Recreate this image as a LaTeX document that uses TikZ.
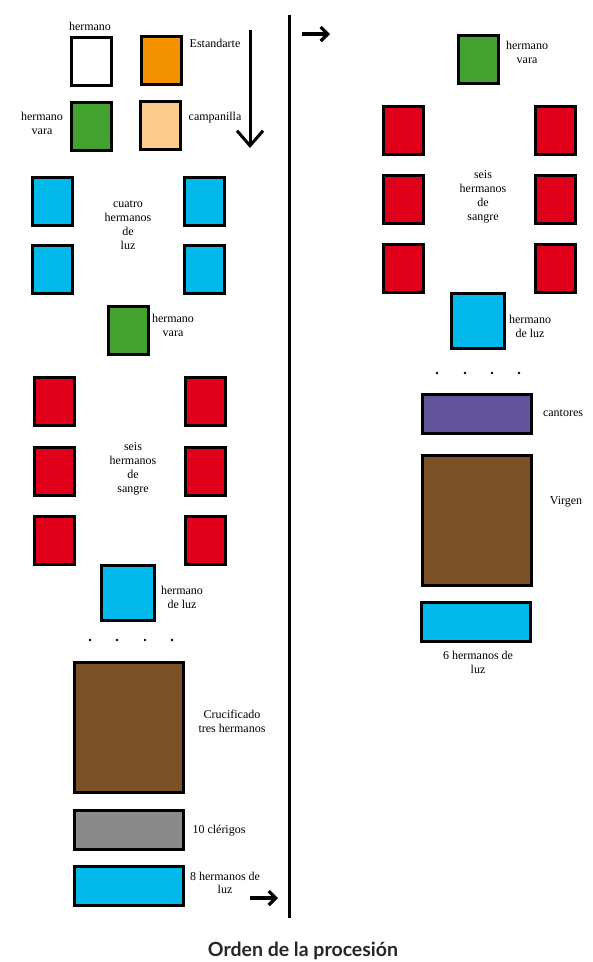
\documentclass[tikz,border=0pt]{standalone}
\usepackage{fontspec}
\setmainfont{Liberation Serif}
\newfontfamily\capfont{Lato}
\usetikzlibrary{arrows.meta}
\definecolor{psOrange}{HTML}{F39200}
\definecolor{psGreen}{HTML}{43A22E}
\definecolor{psPeach}{HTML}{FCCB8C}
\definecolor{psLuz}{HTML}{00B8E9}
\definecolor{psRed}{HTML}{E1001C}
\definecolor{psBrown}{HTML}{7A5127}
\definecolor{psGrey}{HTML}{8A8A8A}
\definecolor{psPurple}{HTML}{62549B}

\begin{document}
\begin{tikzpicture}[
      x=1pt,y=-1pt,
      font=\fontsize{12}{14}\selectfont,
      fig/.style={draw=black,line width=3pt,inner sep=0pt,
                  minimum width=40pt,minimum height=48pt},
      big/.style={fig,minimum width=53pt,minimum height=55pt},
      wide/.style={fig,minimum width=109pt,minimum height=39pt},
      tall/.style={fig,minimum width=109pt,minimum height=130pt},
      luz/.style={fill=psLuz},
      san/.style={fig,fill=psRed},
      vara/.style={fig,fill=psGreen},
      lbl/.style={align=center,inner sep=0pt},
      pt/.style={circle,fill=black,inner sep=0pt,minimum size=2.6pt},
      arr/.style={-{Straight Barb[length=7pt,width=14pt]},line width=3.2pt}
    ]
    \useasboundingbox (0,0) rectangle (593,962);

    % left half of the procession
    \node[fig,fill=white]  (wht)   at ( 91, 61.5) {};
    \node[fig,fill=psOrange] (std) at (161, 60) {};
    \node[vara]            (vara1) at ( 91,126.5) {};
    \node[fig,fill=psPeach] (camp) at (160.5,125.5) {};
    \node[lbl] (lHerm) at ( 90, 26) {hermano};
    \node[lbl] (lStd)  at (215, 43) {Estandarte};
    \node[lbl] (lVara1) at ( 42,123) {hermano\\vara};
    \node[lbl] (lCamp) at (215,118) {campanilla};

    \node[fig,luz] (luzA) at ( 52,201) {};
    \node[fig,luz] (luzB) at (204,201) {};
    \node[fig,luz] (luzC) at ( 52,269.5) {};
    \node[fig,luz] (luzD) at (204,269.5) {};
    \node[lbl] (lCuatro) at (128,225) {cuatro\\hermanos\\de\\luz};

    \node[vara] (vara2) at (128,330.5) {};
    \node[lbl] (lVara2) at (173,325) {hermano\\vara};

    \node[san] (sanA) at ( 54,401) {};
    \node[san] (sanB) at (205,401) {};
    \node[san] (sanC) at ( 54,471) {};
    \node[san] (sanD) at (205,471) {};
    \node[san] (sanE) at ( 54,540) {};
    \node[san] (sanF) at (205,540) {};
    \node[lbl] (lSeis1) at (133,469) {seis\\hermanos\\de\\sangre};

    \node[big,luz] (luz5) at (127.5,592.5) {};
    \node[lbl] (lLuz5) at (182,597) {hermano\\de luz};

    \node[pt] (dA) at ( 90,640) {};
    \node[pt] (dB) at (117,640) {};
    \node[pt] (dC) at (145,640) {};
    \node[pt] (dD) at (172,640) {};

    \node[tall,fill=psBrown] (cruc) at (129,727.5) {};
    \node[lbl] (lCruc) at (232,721) {Crucificado\\tres hermanos};
    \node[wide,fill=psGrey] (cler) at (128.5,830) {};
    \node[lbl] (lCler) at (219,831) {10 clérigos};
    \node[wide,luz] (luz8) at (128.5,885.5) {};
    \node[lbl,font=\fontsize{12}{13}\selectfont] (lLuz8) at (225,882.5) {8 hermanos de\\luz};

    % right half, it goes on after the divider
    \node[vara] (vara3) at (478,59.5) {};
    \node[lbl] (lVara3) at (527,52) {hermano\\vara};

    \node[san] (sanG) at (403.5,130) {};
    \node[san] (sanH) at (555,130) {};
    \node[san] (sanI) at (403.5,199.5) {};
    \node[san] (sanJ) at (555,199.5) {};
    \node[san] (sanK) at (403.5,268.5) {};
    \node[san] (sanL) at (555,268.5) {};
    \node[lbl] (lSeis2) at (483,197) {seis\\hermanos\\de\\sangre};

    \node[big,luz] (luz6) at (477.5,321) {};
    \node[lbl] (lLuz6) at (530,326) {hermano\\de luz};

    \node[pt] (dE) at (437,373) {};
    \node[pt] (dF) at (465,373) {};
    \node[pt] (dG) at (492,373) {};
    \node[pt] (dH) at (519,373) {};

    \node[wide,fill=psPurple] (cant) at (477,414) {};
    \node[lbl] (lCant) at (563,413) {cantores};
    \node[tall,fill=psBrown] (virg) at (476.5,520.5) {};
    \node[lbl] (lVirg) at (566,502) {Virgen};
    \node[wide,luz] (luz7) at (476,621.5) {};
    \node[lbl] (lLuz7) at (478,662) {6 hermanos de\\luz};

    \coordinate (dn0) at (250,30);
    \coordinate (dn1) at (250,148);
    \coordinate (rt0) at (250,898);
    \coordinate (rt1) at (278,898);
    \coordinate (rt2) at (302,34);
    \coordinate (rt3) at (330,34);
    \coordinate (divT) at (289,15);
    \coordinate (divB) at (289,918);

    \draw[-{Straight Barb[length=15pt,width=26pt]},line width=3pt] (dn0) -- (dn1);
    \draw[arr] (rt0) -- (rt1);
    \draw[arr] (rt2) -- (rt3);
    \draw[line width=3pt] (divT) -- (divB);

    \node[lbl,font=\capfont\bfseries\fontsize{19.5}{22}\selectfont,text=black!85] (cap) at (303,951) {Orden de la procesión};
  \end{tikzpicture}
\end{document}
